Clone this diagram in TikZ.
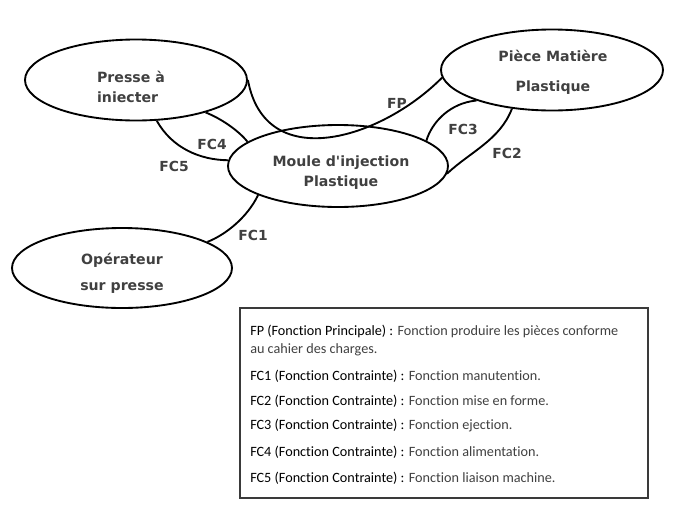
\documentclass[tikz,border=0pt]{standalone}
\usepackage{fontspec}
\setmainfont{DejaVu Sans}[Ligatures=TeXOff]
\newfontfamily\legfont{Carlito}[Ligatures={NoCommon,TeXOff}]
\usetikzlibrary{shapes.geometric}
\definecolor{txtgray}{HTML}{404040}
\definecolor{boxgray}{HTML}{3A3A3A}
\tikzset{
  ell/.style={ellipse, draw=black, line width=1.4pt, inner sep=0pt},
  etxt/.style={font=\bfseries\fontsize{10.6}{15}\selectfont, text=txtgray, align=center, inner sep=0pt},
  lab/.style={font=\bfseries\fontsize{10.4}{12}\selectfont, text=txtgray, inner sep=0pt},
  conn/.style={line width=1.4pt, draw=black},
  leg/.style={font=\legfont\fontsize{10.65}{12}\selectfont, text=txtgray, anchor=west, inner sep=0pt},
  legbox/.style={draw=boxgray, line width=0.8pt}
}
\begin{document}
\begin{tikzpicture}[x=0.75pt,y=-0.75pt]
\useasboundingbox (0,0) rectangle (693,515);
% ellipses
\node[ell, minimum width=166.5pt, minimum height=60.75pt] (presse) at (136,80) {};
\node[ell, minimum width=166.5pt, minimum height=60.75pt] (piece) at (552,70) {};
\node[ell, minimum width=165pt, minimum height=61.5pt] (moule) at (338,166) {};
\node[ell, minimum width=165pt, minimum height=60pt] (oper) at (122,268) {};
% texts
\node[etxt, align=left] (presset) at (131,87) {Presse à\\iniecter};
\node[etxt, font=\bfseries\fontsize{10.6}{22.5}\selectfont] (piecet) at (553,72) {Pièce Matière\\Plastique};
\node[etxt] (moulet) at (341,173) {Moule d'injection\\Plastique};
\node[etxt, font=\bfseries\fontsize{10.6}{19.5}\selectfont] (opert) at (122,273) {Opérateur\\sur presse};
% connectors
\draw[conn] (presse.0) .. controls (265,174) and (380,140) .. (piece.184);
\draw[conn] (presse.-25.5) .. controls (220,118) and (238,130) .. (moule.165);
\draw[conn] (presse.-63) .. controls (172,148) and (200,160) .. (moule.177);
\draw[conn] (piece.202.6) .. controls (450,103) and (432,122) .. (moule.16.6);
\draw[conn] (piece.224.3) .. controls (500,140) and (470,152) .. (moule.-4.7);
\draw[conn] (moule.200) .. controls (247,218) and (225,235) .. (oper.17);
% labels
\node[lab] (lfp) at (397,103) {FP};
\node[lab] (lfc3) at (463,129) {FC3};
\node[lab] (lfc2) at (507,153) {FC2};
\node[lab] (lfc4) at (212,144) {FC4};
\node[lab] (lfc5) at (174,166) {FC5};
\node[lab] (lfc1) at (253,235) {FC1};
% legend
\draw[legbox] (240,308) rectangle (648,498);
\node[leg] (l0) at (250,331) {\textcolor{black}{FP (Fonction Principale) :} Fonction produire les pièces conforme};
\node[leg] (l0b) at (250,350) {au cahier des charges.};
\node[leg] (l1) at (250,376) {\textcolor{black}{FC1 (Fonction Contrainte) :} Fonction manutention.};
\node[leg] (l2) at (250,401) {\textcolor{black}{FC2 (Fonction Contrainte) :} Fonction mise en forme.};
\node[leg] (l3) at (250,426) {\textcolor{black}{FC3 (Fonction Contrainte) :} Fonction ejection.};
\node[leg] (l4) at (250,452) {\textcolor{black}{FC4 (Fonction Contrainte) :} Fonction alimentation.};
\node[leg] (l5) at (250,478) {\textcolor{black}{FC5 (Fonction Contrainte) :} Fonction liaison machine.};
\end{tikzpicture}
\end{document}
